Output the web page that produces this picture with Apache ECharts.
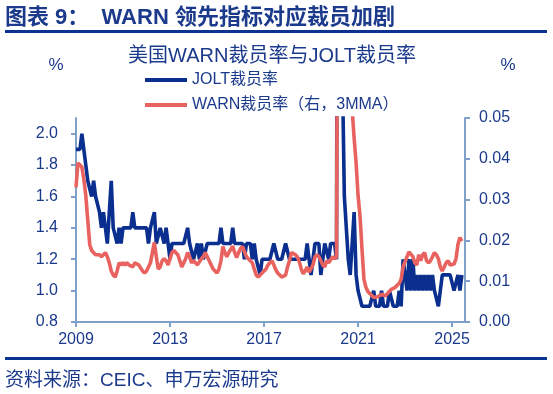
<!DOCTYPE html>
<html><head><meta charset="utf-8">
<script src="https://cdn.jsdelivr.net/npm/echarts@6/dist/echarts.min.js"></script>
<style>html,body{margin:0;padding:0;background:#fff}#c{width:553px;height:394px}</style>
</head><body><div id="c"></div>
<script>
// JOLT layoffs rate (%), monthly from 2009-01
const jolt2009 = [1.9,1.9,1.9,2.0,2.0,1.8,1.7,1.7,1.6,1.7,1.6,1.6];
const jolt2010 = [1.5,1.4,1.5,1.4,1.3,1.3,1.7,1.4,1.4,1.3,1.4,1.3];
const jolt2011 = [1.4,1.4,1.4,1.4,1.4,1.5,1.4,1.4,1.4,1.4,1.4,1.4];
const jolt2012 = [1.4,1.3,1.4,1.4,1.5,1.3,1.3,1.4,1.4,1.3,1.4,1.4];
const jolt2013 = [1.2,1.3,1.3,1.3,1.3,1.3,1.3,1.3,1.3,1.4,1.3,1.3];
const jolt2014 = [1.2,1.2,1.3,1.2,1.3,1.2,1.2,1.3,1.3,1.3,1.3,1.3];
const jolt2015 = [1.3,1.3,1.4,1.3,1.3,1.3,1.3,1.3,1.4,1.3,1.3,1.3];
const jolt2016 = [1.3,1.3,1.2,1.3,1.3,1.3,1.2,1.3,1.2,1.2,1.1,1.2];
const jolt2017 = [1.2,1.2,1.2,1.2,1.2,1.3,1.3,1.2,1.2,1.2,1.2,1.3];
const jolt2018 = [1.3,1.2,1.2,1.2,1.2,1.2,1.2,1.2,1.2,1.2,1.3,1.3];
const jolt2019 = [1.1,1.1,1.3,1.3,1.3,1.1,1.2,1.3,1.3,1.2,1.3,1.3];
const jolt2020 = [1.3,1.2,7.5,5.9,2.4,1.6,1.6,1.2,1.1,1.3,1.5,1.1];
const jolt2021 = [1.0,1.0,0.9,0.9,0.9,0.9,0.9,0.9,1.0,0.9,0.9,0.9];
const jolt2022 = [1.0,0.9,0.9,0.9,1.0,1.0,0.9,0.9,0.9,1.0,0.9,1.2];
const jolt2023 = [1.2,1.0,1.2,1.0,1.2,1.0,1.1,1.0,1.1,1.0,1.1,1.0];
const jolt2024 = [1.1,1.0,1.1,1.0,1.0,0.9,1.0,1.1,1.1,1.1,1.1,1.1];
const jolt2025 = [1.1,1.0,1.0,1.1,1.0,1.1];

// WARN layoffs rate (right axis, 3MMA), monthly from 2009-01
const warn2009 = [0.033,0.039,0.039,0.038,0.035,0.031,0.025,0.019,0.0175,0.017,0.0165,0.0165];
const warn2010 = [0.0165,0.016,0.0165,0.017,0.016,0.0145,0.0125,0.0115,0.011,0.0125,0.0145,0.014];
const warn2011 = [0.0145,0.014,0.0145,0.014,0.014,0.0135,0.0145,0.0145,0.014,0.014,0.0125,0.012];
const warn2012 = [0.0125,0.0135,0.0145,0.017,0.0195,0.016,0.013,0.0135,0.015,0.0155,0.015,0.014];
const warn2013 = [0.0155,0.017,0.0175,0.017,0.0165,0.015,0.0135,0.0135,0.0155,0.017,0.016,0.0145];
const warn2014 = [0.015,0.0145,0.014,0.014,0.0155,0.016,0.017,0.016,0.015,0.014,0.013,0.0125];
const warn2015 = [0.012,0.013,0.015,0.0185,0.017,0.016,0.017,0.0178,0.0186,0.017,0.0158,0.017];
const warn2016 = [0.018,0.0185,0.0186,0.016,0.0155,0.0155,0.0145,0.013,0.0115,0.011,0.0115,0.012];
const warn2017 = [0.0125,0.013,0.014,0.0145,0.015,0.014,0.0128,0.012,0.0115,0.011,0.0108,0.0115];
const warn2018 = [0.0135,0.015,0.017,0.017,0.0165,0.016,0.0148,0.013,0.0118,0.0125,0.0135,0.0122];
const warn2019 = [0.012,0.014,0.016,0.0165,0.016,0.015,0.014,0.0135,0.015,0.0145,0.0148,0.016];
const warn2020 = [0.0155,0.016,0.15,0.25,0.25,0.2,0.15,0.1,0.07,0.052,0.045,0.039];
const warn2021 = [0.031,0.026,0.018,0.0105,0.0085,0.0075,0.007,0.0065,0.006,0.006,0.0062,0.0066];
const warn2022 = [0.0068,0.0065,0.0064,0.0065,0.0075,0.008,0.0082,0.0085,0.009,0.0095,0.0105,0.0135];
const warn2023 = [0.0137,0.016,0.0172,0.0175,0.016,0.0145,0.014,0.0165,0.015,0.0165,0.017,0.015];
const warn2024 = [0.0145,0.015,0.016,0.017,0.0165,0.0155,0.0135,0.0125,0.0125,0.0145,0.015,0.014];
const warn2025 = [0.014,0.0142,0.0155,0.019,0.0207,0.0198];

const xTickYears = [2009, 2013, 2017, 2021, 2025];
const leftTicks = [0.8, 1.0, 1.2, 1.4, 1.6, 1.8, 2.0];
const rightTicks = [0.00, 0.01, 0.02, 0.03, 0.04, 0.05];

const joltAll = [].concat(jolt2009,jolt2010,jolt2011,jolt2012,jolt2013,jolt2014,jolt2015,jolt2016,jolt2017,jolt2018,jolt2019,jolt2020,jolt2021,jolt2022,jolt2023,jolt2024,jolt2025);
const warnAll = [].concat(warn2009,warn2010,warn2011,warn2012,warn2013,warn2014,warn2015,warn2016,warn2017,warn2018,warn2019,warn2020,warn2021,warn2022,warn2023,warn2024,warn2025);
// month categories "YYYY-MM" starting 2009-01
const months = joltAll.map((_, i) => (2009 + Math.floor(i / 12)) + '-' + String(i % 12 + 1).padStart(2, '0'));
const toYear = s => { const [y, m] = s.split('-').map(Number); return y + (m - 1) / 12; };

const NAVY = '#1B3A8C';
const BLUE = '#0A2F8F';
const RED = '#E8625F';
const AX = '#7FA0C9';
const FONT = 'Liberation Sans, Arial, Noto Sans CJK SC, sans-serif';

const chart = echarts.init(document.getElementById('c'), null, {renderer: 'canvas'});
chart.setOption({
  animation: false,
  textStyle: {fontFamily: FONT},
  grid: {left: 76, right: 88, top: 118, bottom: 72, containLabel: false},
  legend: {
    orient: 'vertical', left: 140, top: 67, itemWidth: 42, itemHeight: 4, itemGap: 9,
    icon: 'rect',
    textStyle: {fontSize: 16, color: NAVY, fontFamily: FONT},
    data: ['JOLT裁员率', 'WARN裁员率（右，3MMA）']
  },
  xAxis: {
    type: 'value', min: xTickYears[0], max: 2025.55, interval: 4,
    axisLine: {lineStyle: {color: AX, width: 2}},
    axisTick: {show: true, length: 5, lineStyle: {color: AX, width: 2}},
    axisLabel: {color: NAVY, fontSize: 16, margin: 10, showMaxLabel: false,
      formatter: v => xTickYears.includes(Math.round(v * 100) / 100) ? String(v) : ''},
    splitLine: {show: false}
  },
  yAxis: [{
    type: 'value', min: leftTicks[0], max: 2.1, interval: 0.2, position: 'left',
    axisLine: {show: true, lineStyle: {color: AX, width: 2}},
    axisTick: {show: true, length: 5, lineStyle: {color: AX, width: 2}},
    axisLabel: {color: NAVY, fontSize: 16, margin: 18, showMaxLabel: false,
      formatter: v => v.toFixed(1)},
    splitLine: {show: false}
  }, {
    type: 'value', min: rightTicks[0], max: rightTicks[rightTicks.length - 1], interval: 0.01, position: 'right',
    axisLine: {show: true, lineStyle: {color: AX, width: 2}},
    axisTick: {show: true, length: 5, lineStyle: {color: AX, width: 2}},
    axisLabel: {color: NAVY, fontSize: 16, margin: 14, formatter: v => v.toFixed(2)},
    splitLine: {show: false}
  }],
  series: [{
    name: 'JOLT裁员率', type: 'line', yAxisIndex: 0, showSymbol: false, symbol: 'none',
    lineStyle: {color: BLUE, width: 3.6}, itemStyle: {color: BLUE}, clip: true,
    data: months.map((m, i) => [toYear(m), joltAll[i]])
  }, {
    name: 'WARN裁员率（右，3MMA）', type: 'line', yAxisIndex: 1, showSymbol: false, symbol: 'none',
    lineStyle: {color: RED, width: 3.6}, itemStyle: {color: RED}, clip: true,
    data: months.map((m, i) => [toYear(m), warnAll[i]])
  }],
  graphic: [
    {type: 'text', x: 5, y: 18, style: {text: '图表 9：  WARN 领先指标对应裁员加剧', font: 'bold 22px ' + FONT, fill: NAVY, verticalAlign: 'middle'}},
    {type: 'rect', shape: {x: 5, y: 30, width: 542, height: 3}, style: {fill: '#0B338F'}},
    {type: 'text', x: 272, y: 56, style: {text: '美国WARN裁员率与JOLT裁员率', font: '20px ' + FONT, fill: NAVY, align: 'center', verticalAlign: 'middle'}},
    {type: 'text', x: 56, y: 65, style: {text: '%', font: '17px ' + FONT, fill: NAVY, align: 'center', verticalAlign: 'middle'}},
    {type: 'text', x: 508, y: 65, style: {text: '%', font: '17px ' + FONT, fill: NAVY, align: 'center', verticalAlign: 'middle'}},
    {type: 'rect', shape: {x: 5, y: 357, width: 542, height: 3}, style: {fill: '#0B338F'}},
    {type: 'text', x: 5, y: 381, style: {text: '资料来源：CEIC、申万宏源研究', font: '19px ' + FONT, fill: NAVY, verticalAlign: 'middle'}}
  ]
});
</script></body></html>
